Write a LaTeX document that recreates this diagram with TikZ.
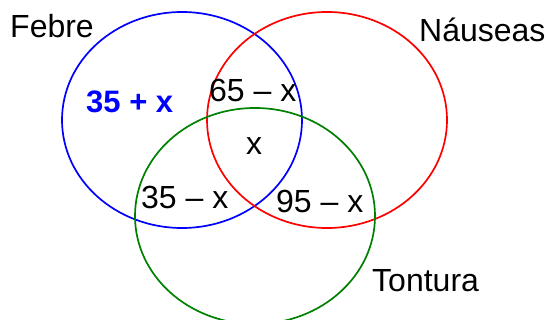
\documentclass[tikz,border=0pt]{standalone}
\usepackage{fontspec}
\setmainfont{Liberation Sans}
\tikzset{
  venn/.style={line width=1.7pt},
  lbl/.style={inner sep=0pt, anchor=base west, font=\fontsize{32}{37}\selectfont},
  lblb/.style={lbl, font=\fontsize{31}{36}\selectfont\bfseries, text=blue}
}
\begin{document}
\begin{tikzpicture}[x=1pt,y=-1pt]
\useasboundingbox (0,0) rectangle (548,320);
\draw[venn, blue] (182,120) ellipse [x radius=120, y radius=108];
\draw[venn, red] (327,120) ellipse [x radius=120, y radius=108];
\draw[venn, green!50!black] (255,216) ellipse [x radius=120, y radius=108];
\node[lbl] (febre) at (10,38) {Febre};
\node[lbl] (nauseas) at (419,42) {Náuseas};
\node[lbl] (tontura) at (372,291) {Tontura};
\node[lblb] (a) at (86,113) {35 + x};
\node[lbl] (b) at (209,102) {65 – x};
\node[lbl] (c) at (246,155) {x};
\node[lbl] (d) at (141,208) {35 – x};
\node[lbl] (e) at (276,212) {95 – x};
\end{tikzpicture}
\end{document}
